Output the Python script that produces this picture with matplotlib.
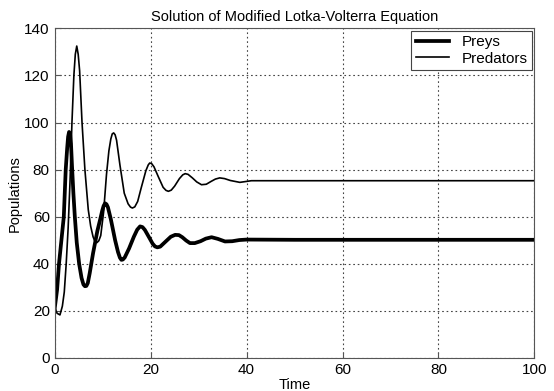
import matplotlib
matplotlib.use("Agg")
import matplotlib.pyplot as plt

plt.rcParams['font.family'] = ['Liberation Sans', 'DejaVu Sans']

# values
t_prey = [0, 0.5, 0.9, 1.4, 1.9, 2.3, 2.6, 2.8, 3.0, 3.2, 3.4, 3.6, 3.9, 4.2, 4.6, 5.1,
          5.6, 6.0, 6.3, 6.6, 6.9, 7.3, 8.0, 8.9, 9.5, 9.9, 10.2, 10.5, 10.8, 11.1,
          11.7, 12.6, 13.2, 13.6, 13.9, 14.2, 14.6, 15.5, 16.5, 17.2, 17.8, 18.3,
          18.8, 19.8, 20.4, 20.9, 21.4, 22.0, 23.2, 24.2, 25.1, 25.9, 26.6, 27.4,
          28.2, 29.2, 30.4, 31.5, 32.7, 34.0, 35.5, 37.0, 38.5, 40, 50, 60, 70, 80,
          90, 100]
preys = [21, 29, 40, 50, 60, 80, 89, 94, 96, 95.5, 91, 82, 70, 60, 49, 40,
         34, 31.2, 30.5, 30.6, 31.8, 36, 44.5, 54, 59, 62.5, 64.6, 65.7, 65.3, 64,
         59, 50, 45, 42.6, 41.7, 41.8, 42.7, 46.5, 51.5, 54.5, 55.9, 55.6,
         54.4, 50.8, 48.6, 47.4, 47.0, 47.3, 49.6, 51.5, 52.3, 52.2, 51.3, 49.9,
         48.8, 48.8, 49.6, 50.7, 51.3, 50.6, 49.5, 49.6, 50.1, 50.3, 50.2, 50.2, 50.2, 50.2,
         50.2, 50.2]

t_pred = [0, 0.5, 1.1, 1.6, 2.0, 2.4, 2.8, 3.2, 3.6, 4.0, 4.3, 4.6, 4.9, 5.2, 5.7,
          6.3, 7.0, 7.5, 8.0, 8.4, 8.8, 9.2, 9.6, 10.2, 10.8, 11.3, 11.7, 12.0, 12.3,
          12.6, 12.9, 13.6, 14.5, 15.3, 15.8, 16.2, 16.7, 17.3, 18.0, 19.0, 19.5,
          19.8, 20.2, 20.7, 21.6, 22.6, 23.2, 23.7, 24.3, 25.0, 26.0, 26.7, 27.2,
          27.8, 28.7, 29.6, 30.6, 31.6, 32.6, 33.5, 34.4, 35.4, 36.6, 38.6, 41, 50,
          60, 70, 80, 90, 100]
predators = [21.5, 19, 18.3, 22, 28, 40, 55, 75, 100, 120, 129, 132.5, 129, 122, 100,
             80, 63, 56, 51.5, 49.5, 49.0, 49.8, 52, 62, 78, 88, 93, 95.2, 95.6,
             94.8, 92.5, 82, 70, 65.5, 64.1, 63.7, 64.2, 66.5, 72, 79.5, 82,
             82.8, 82.6, 81.2, 77, 72.5, 71.2, 70.8, 71.3, 73, 76.2, 77.8, 78.3,
             78.0, 76.5, 74.8, 73.6, 73.8, 75.0, 76.0, 76.5, 76.2, 75.4, 74.6, 75.3,
             75.3, 75.3, 75.3, 75.3, 75.3, 75.3]

x_ticks = [0, 20, 40, 60, 80, 100]
y_ticks = [0, 20, 40, 60, 80, 100, 120, 140]

fig = plt.figure(figsize=(5.54, 3.91), dpi=100)
ax = fig.add_axes([0.0987, 0.0844, 0.866, 0.843])

ax.plot(t_prey, preys, color='black', lw=2.7, label='Preys', solid_joinstyle='round')
ax.plot(t_pred, predators, color='black', lw=1.2, label='Predators', solid_joinstyle='round')

ax.set_xlim(0, 100)
ax.set_ylim(0, 140)
ax.set_xticks(x_ticks)
ax.set_yticks(y_ticks)
ax.tick_params(direction='in', labelsize=11, length=4, color='#555555')
for s in ax.spines.values():
    s.set_color('#555555')
ax.grid(True, color='#444444', linestyle=(0, (1.5, 2.5)), lw=0.8)

ax.set_title('Solution of Modified Lotka-Volterra Equation', fontsize=10.5, pad=5)
ax.set_xlabel('Time', fontsize=10.5, labelpad=1)
ax.set_ylabel('Populations', fontsize=10.5, labelpad=2)

leg = ax.legend(loc='upper right', fontsize=11, fancybox=False, framealpha=1,
                edgecolor='#444444', borderaxespad=0.15, handlelength=2.2,
                borderpad=0.3, labelspacing=0.15)
leg.get_frame().set_linewidth(0.8)

fig.savefig('out.png', dpi=100)
